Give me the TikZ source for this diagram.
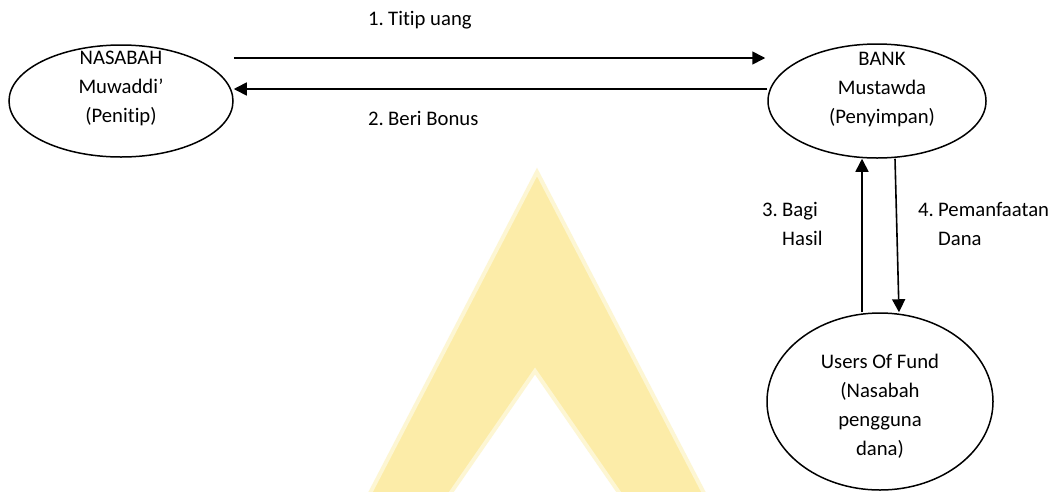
\documentclass[tikz,border=0pt]{standalone}
\usepackage{fontspec}
\setmainfont{Carlito}[Ligatures={NoCommon}]
\usetikzlibrary{arrows.meta,shapes.geometric}
\definecolor{wm}{RGB}{252,236,168}
\newcommand\lnum[1]{\makebox[20pt][l]{#1}}
\begin{document}
\begin{tikzpicture}[x=1pt,y=-1pt,
  every node/.style={font=\fontsize{20.7}{29}\selectfont},
  bubble/.style={draw, ellipse, line width=1.5pt, inner sep=0pt},
  txt/.style={align=center, anchor=base, inner sep=0pt},
  lbl/.style={align=left, anchor=base west, inner sep=0pt},
  arr/.style={line width=1.6pt, -{Triangle[length=13pt,width=13pt]}}]

% canvas
\fill[white] (0,0) rectangle (1059,491);
\useasboundingbox (0,0) rectangle (1059,491);

% faint chevron in the background
\begin{scope}
  \clip (0,0) rectangle (1059,491);
  \draw[wm!50, line width=4pt, fill=wm, even odd rule]
    (537,172) -- (329,572) -- (745,572) -- cycle
    (535,371) -- (396,572) -- (674,572) -- cycle;
\end{scope}

% parties
\node[bubble, minimum width=224pt, minimum height=112pt] (nas)   at (121,101)   {};
\node[bubble, minimum width=218pt, minimum height=114pt] (bank)  at (877,101)   {};
\node[bubble, minimum width=226pt, minimum height=177pt] (users) at (880,401.5) {};

% multi-line texts are anchored at the baseline of their last line
\node[txt] (nasT)   at (121,122) {NASABAH\\Muwaddi’\\(Penitip)};
\node[txt] (bankT)  at (882,123) {BANK\\Mustawda\\(Penyimpan)};
\node[txt] (usersT) at (880,455) {Users Of Fund\\(Nasabah\\pengguna\\dana)};

% flows
\draw[arr, shorten >=2pt] ([yshift=43pt]nas.east) -- ([yshift=43pt]bank.west);
\draw[arr] ([yshift=12pt]bank.west) -- ([yshift=12pt]nas.east);
\draw[arr] ([xshift=-18pt]users.north) -- ([xshift=-15pt]bank.south);
\draw[arr] ([xshift=18pt]bank.south) -- ([xshift=19pt]users.north);

% flow labels
\node[lbl] (l1) at (368,25)  {\lnum{1.}Titip uang};
\node[lbl] (l2) at (368,125) {\lnum{2.}Beri Bonus};
\node[lbl] (l3) at (762,245) {\lnum{3.}Bagi\\\lnum{}Hasil};
\node[lbl] (l4) at (918,245) {\lnum{4.}Pemanfaatan\\\lnum{}Dana};
\end{tikzpicture}
\end{document}
